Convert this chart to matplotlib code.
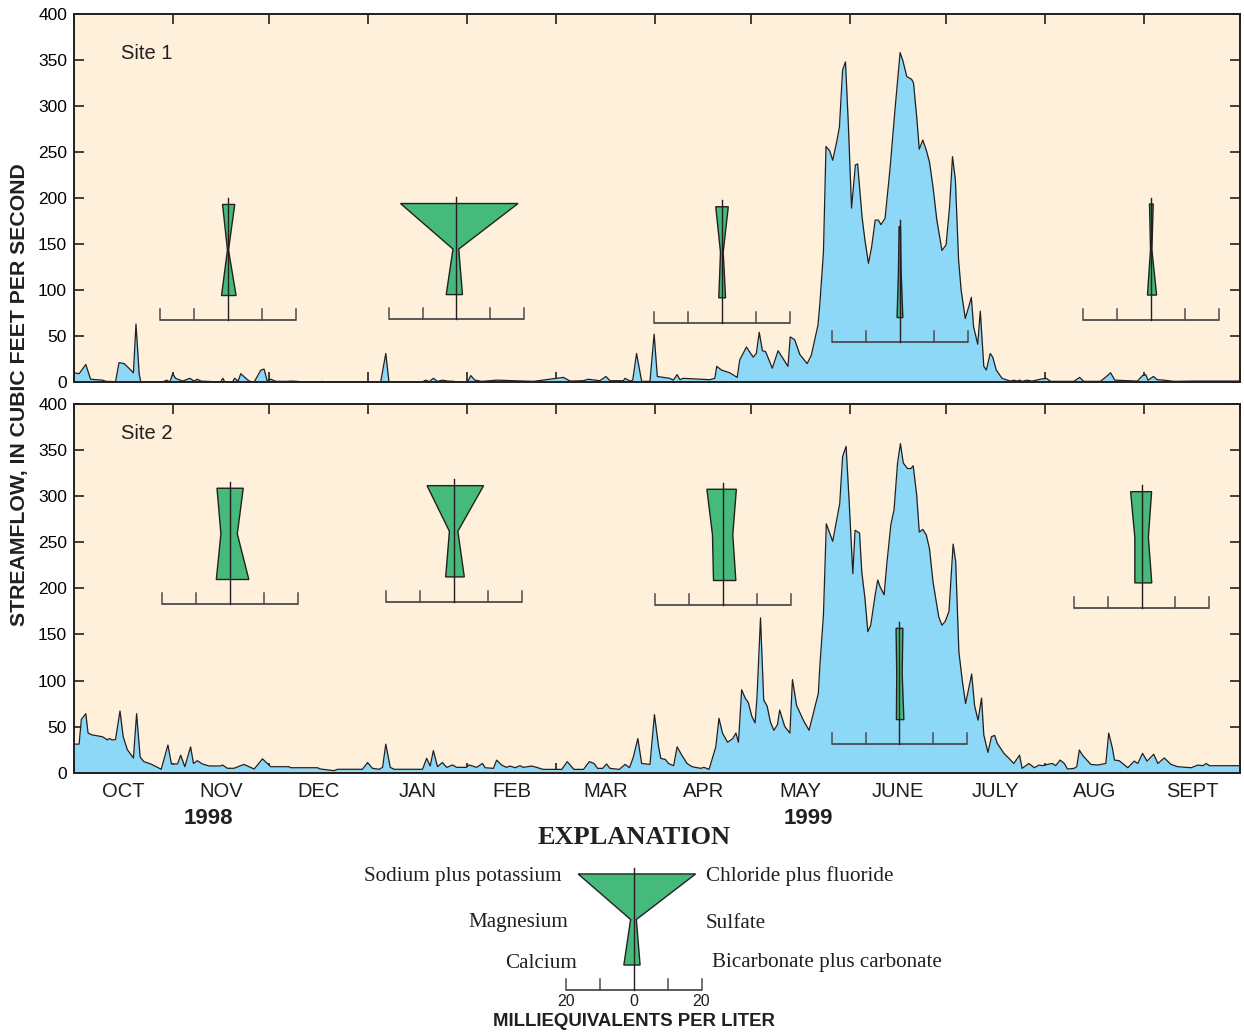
import numpy as np
import matplotlib.pyplot as plt
from matplotlib.patches import Polygon
from matplotlib.transforms import blended_transform_factory

# === Daily streamflow, water year 1999 (day 0 = Oct 1, 1998), cfs ===
dias_1 = [0, 1.6, 3.7, 5.2, 8.9, 10, 13, 14.1, 15.7, 17.2, 18.6, 19.4, 20.4, 20.9, 27.7, 29, 30, 30.9, 31.8, 34,
          36.3, 37.6, 38.6, 39.7, 41.8, 45.9, 46.6, 47.2, 49.6, 50.3, 51.4, 52.2, 54.8, 56.4, 58.5, 59.5, 60.5,
          61.6, 63.2, 66.8, 67.8, 70, 71, 77.2, 77.8, 78.3, 96, 97.6, 98.6, 109, 110.1, 111.2, 112.5, 113.8,
          115.3, 117, 119, 119.5, 123.2, 124.2, 125.5, 127.6, 132.3, 143.8, 153.2, 155.3, 159.4, 161, 164.6,
          166.5, 167.8, 172, 172.5, 174.1, 174.9, 176.1, 177.7, 180.3, 181.6, 182.6, 186.5, 187.6, 188.8, 189.7,
          190.7, 199, 200.6, 201.2, 202.7, 205.3, 207.6, 208.4, 210.5, 212.6, 213.6, 214.5, 215.5, 216.5, 218.6,
          220.4, 223.5, 224.2, 225.6, 227.2, 229.5, 230.8, 232.9, 233.5, 234.6, 235.4, 236.6, 237.5, 238.8,
          239.6, 240.6, 241.5, 242.4, 243.4, 244.6, 245.3, 246.7, 247.6, 248.7, 249.7, 250.8, 251.8, 252.6,
          253.9, 255.5, 257, 258.6, 259.4, 260.7, 262.2, 262.8, 263.8, 264.6, 265.7, 266.8, 267.8, 268.9, 270.1,
          271.7, 273, 274.1, 275, 275.9, 276.9, 277.7, 279, 280.1, 280.9, 281.6, 282.9, 283.7, 284.8, 285.6,
          286.8, 287.6, 288.7, 290.5, 293.1, 294.2, 295.2, 296, 296.8, 298.3, 299.9, 302.5, 304.4, 305.7, 313,
          314.8, 316.1, 321.3, 323.2, 324.5, 325.8, 332.9, 334.5, 335.5, 336.2, 337.9, 339.1, 341.2, 344.4,
          350.6, 359, 365]
vazao_1 = [10, 9, 19, 3, 2, 0.7, 0.4, 21, 20, 15, 10, 63, 9, 0, 0, 2, 0, 9, 4, 1,
           4, 1, 3, 1, 0.7, 0, 4, 0, 0, 4, 1, 9, 1, 0, 13, 14, 1,
           3, 0.7, 0.7, 1, 0.7, 0, 0, 0.7, 0, 0, 31, 0, 0, 2, 0.4, 4, 0.7,
           2, 1, 0.7, 0, 0, 7, 2, 0.7, 2, 0.7, 5, 1, 1.4, 3, 1.4,
           6, 1.4, 1.4, 4, 1, 2, 31, 0.7, 0.7, 52, 6, 4, 2, 8, 2.5,
           4, 2.5, 4, 17, 13, 10, 5, 24, 38, 27, 31, 54, 34, 33, 15,
           34, 17, 49, 46, 30, 20, 29, 62, 86, 141, 256, 251, 241, 262,
           277, 339, 348, 280, 189, 236, 237, 179, 154, 129, 147, 176, 176, 171,
           178, 234, 296, 358, 350, 332, 329, 325, 288, 253, 263, 252, 239, 212, 176,
           143, 149, 191, 245, 220, 133, 100, 69, 82, 92, 60, 41, 77, 17, 13,
           31, 27, 13, 4, 1, 2, 1, 2, 0.7, 2, 1, 3, 4, 0.7, 0.7,
           5, 0.7, 0.7, 6, 10, 2, 1, 7, 8, 2, 6, 2.5, 2, 0.7,
           1, 1, 1]

dias_2 = [0, 1.6, 2.3, 3.7, 4.4, 5.7, 7.3, 8.9, 9.9, 10.4, 11, 12, 13, 14.4, 15.4, 16.7, 18.6, 19.6, 20.7, 21.9,
          24, 25.3, 27.3, 29.4, 30.5, 32.4, 33.4, 34.7, 36.5, 37.4, 38.6, 40.2, 42.3, 45.9, 46.5, 48, 50.1, 53.2,
          56.4, 59, 60.5, 61.6, 67.3, 67.8, 76.2, 77.2, 81.4, 82.5, 90.3, 91.9, 93.4, 95.5, 96.6, 97.6, 99, 100.2,
          109.1, 110.4, 111.5, 112.5, 113.8, 115.3, 116.7, 118.5, 119.8, 122.7, 123.7, 126, 127.9, 128.7, 131.3,
          132.3, 133.9, 135.4, 136.5, 138.1, 139.6, 140.6, 143.3, 144.8, 146.9, 152.7, 154.4, 156.5, 159.5, 161.3,
          162.8, 163.9, 165.5, 166.7, 167.8, 170.7, 172.5, 173.9, 175.1, 176.5, 177.7, 180.3, 181.7, 183, 183.7,
          185.1, 186.1, 187.7, 188.8, 190.1, 191.9, 193.5, 196.2, 197.2, 198.8, 200.9, 201.9, 203, 204.6, 206.2,
          207.2, 208, 209, 210.1, 211.1, 212.2, 213.2, 213.8, 214.9, 215.9, 217, 218, 219.1, 220.2, 220.9, 222.5,
          224.1, 224.9, 226.2, 228.3, 230.1, 232, 233, 233.5, 234.6, 235.5, 237.5, 239.7, 240.6, 241.7, 242.7,
          243.8, 244.5, 245.9, 246.6, 247.6, 248.5, 249.4, 250.8, 251.6, 252.3, 253.6, 254.4, 255.7, 256.7, 257.8,
          258.7, 259.6, 260.9, 262, 262.7, 263.8, 264.6, 265.7, 266.8, 267.8, 268.9, 270.7, 271.7, 272.7, 273.9,
          275.2, 276, 277, 278.1, 279.1, 281, 281.9, 283, 284.1, 284.8, 286.1, 287.2, 288.2, 289, 291.1, 292.7,
          294.2, 296, 296.8, 298.9, 300.6, 302.1, 303.2, 304.7, 306.3, 307.3, 308.7, 310, 311, 313.1, 313.9,
          314.7, 315.7, 318.3, 320.4, 323, 323.9, 325.1, 325.7, 327.2, 329.9, 331.9, 333, 334.5, 335.9, 338,
          339.3, 341.3, 343.4, 345.5, 349.7, 351.8, 353.4, 354.4, 355.5, 365]
vazao_2 = [31, 31, 58, 64, 43, 41, 40, 39, 37, 35.5, 37, 35.5, 36, 67, 39, 25, 16, 64, 17, 12,
           9.5, 7.3, 3.7, 30, 9.5, 9.5, 19, 6.5, 28, 10, 13, 9.5, 7.3, 7.3, 8.4, 4.8, 4.8, 9,
           4, 15, 10, 6.5, 6.5, 5.4, 5.4, 4, 2.2, 3.7, 3.7, 11, 4.8, 3.7, 5.8, 31, 5.8, 3.7,
           3.7, 15.6, 7.3, 24, 6.5, 11, 5.8, 8.4, 5.8, 5.8, 8.4, 5.8, 10, 5.4, 4.7,
           13.6, 8.2, 5.8, 7.2, 5.4, 7.6, 5.8, 7.2, 5.8, 3.6, 3.6, 12, 3.6, 3.6, 12,
           10, 4.7, 4.7, 9.4, 4.7, 3.6, 9, 5.4, 17, 37, 10, 9, 63, 28, 15.5,
           14.4, 10, 7.6, 28, 20, 10, 6.5, 4.7, 5.8, 3.6, 28, 59, 43, 33, 37,
           43, 33, 90, 81, 76, 61, 54, 82, 168, 79, 72, 55, 46, 52, 68, 50,
           43, 101, 73, 57, 46, 72, 86, 117, 171, 270, 251, 292, 343, 354, 291,
           216, 263, 260, 218, 189, 153, 160, 193, 209, 202, 193, 225, 269, 285, 336,
           357, 336, 330, 330, 333, 301, 261, 264, 258, 243, 207, 169, 160, 164, 175,
           248, 229, 131, 99, 75, 107, 73, 57, 81, 41, 22, 39, 40.5, 32, 21, 15.5,
           10, 19, 4.7, 10, 5.4, 8.3, 7.6, 9, 10, 7.6, 13.7, 10, 4, 4.7, 6.5,
           24.6, 19, 9, 8.3, 10, 43, 26, 13.7, 13, 5.4, 12.6, 10, 21, 12.6, 20,
           10, 16, 9, 6.5, 5.4, 8.3, 7.6, 10, 7.6, 7.6]

# === Stiff diagrams: centre date (day), height of top row (cfs) and ions in meq/L ===
# cations = [Na+K, Mg, Ca]  anions = [Cl+F, SO4, HCO3+CO3]
centro_1 = [48.2, 119.7, 202.8, 258.5, 337.2]
topo_1 = [193, 194, 190.5, 169, 193.5]
cations_1 = [[1.6, 0.15, 1.9], [16.5, 1.0, 3.0], [1.8, 0.4, 0.9], [0.2, 0.4, 0.8], [0.5, 0.2, 1.1]]
anions_1 = [[2.0, 0.15, 2.4], [18.2, 0.7, 1.8], [1.9, 0.4, 1.1], [0.2, 0.4, 0.9], [0.6, 0.2, 1.6]]

centro_2 = [48.9, 119.0, 203.1, 258.4, 334.2]
topo_2 = [308.6, 311.4, 307.5, 156.6, 304.9]
cations_2 = [[3.9, 2.75, 4.1], [8.0, 1.4, 2.5], [4.7, 3.05, 2.75], [1.0, 0.8, 0.9], [3.25, 2.0, 2.0]]
anions_2 = [[3.85, 2.1, 5.5], [8.7, 1.1, 3.0], [4.0, 2.95, 3.85], [1.0, 0.8, 1.3], [2.95, 2.0, 3.0]]

meses = ['OCT', 'NOV', 'DEC', 'JAN', 'FEB', 'MAR', 'APR', 'MAY', 'JUNE', 'JULY', 'AUG', 'SEPT']
inicio_mes = [0, 31, 61, 92, 123, 151, 182, 212, 243, 273, 304, 335, 365]
anos = ['1998', '1999']
pos_anos = [42, 230]

# === Estilo ===
CREME = '#fef0db'
AZUL = '#8dd7f7'
VERDE = '#45ba7a'
ESCURO = '#231f20'
MEQ = 1.06      # days of x axis per meq/L
DY = 49.5       # cfs between rows of a stiff diagram

plt.rcParams['font.family'] = ['Liberation Sans', 'DejaVu Sans']


def stiff(ax, x0, y0, cat, an):
    ys = [y0, y0 - DY, y0 - 2 * DY]
    esq = [(x0 - c * MEQ, y) for c, y in zip(cat, ys)]
    dir_ = [(x0 + a * MEQ, y) for a, y in zip(an, ys)]
    ax.add_patch(Polygon(esq + dir_[::-1], closed=True, fc=VERDE, ec=ESCURO, lw=1.0, zorder=4))
    yb = ys[2] - 27
    ax.plot([x0 - 20 * MEQ, x0 + 20 * MEQ], [yb, yb], color='#4d4d4d', lw=1.3, zorder=4,
            solid_capstyle='butt')
    for k in (-20, -10, 10, 20):
        ax.plot([x0 + k * MEQ] * 2, [yb, yb + 12], color='#4d4d4d', lw=1.1, zorder=4)
    ax.plot([x0, x0], [yb, y0 + 7], color=ESCURO, lw=1.0, zorder=5)


fig = plt.figure(figsize=(12.44, 10.34), dpi=100)
ax1 = fig.add_axes([74 / 1244, 1 - 382 / 1034, 1166 / 1244, 368 / 1034])
ax2 = fig.add_axes([74 / 1244, 1 - 772.7 / 1034, 1166 / 1244, 368.7 / 1034])

dados = [(ax1, dias_1, vazao_1, centro_1, topo_1, cations_1, anions_1, 'Site 1', 0.893),
         (ax2, dias_2, vazao_2, centro_2, topo_2, cations_2, anions_2, 'Site 2', 0.921)]

for ax, d, q, cx, ty, ca, an, nome, ytxt in dados:
    ax.set_facecolor(CREME)
    ax.fill_between(d, q, 0, color=AZUL, lw=0, zorder=2)
    ax.plot(d, q, color=ESCURO, lw=0.9, zorder=3)
    for i in range(len(cx)):
        stiff(ax, cx[i], ty[i], ca[i], an[i])
    ax.set_xlim(0, 365)
    ax.set_ylim(0, 400)
    ax.set_yticks(np.arange(0, 401, 50))
    ax.set_xticks(inicio_mes)
    ax.tick_params(axis='x', which='major', direction='in', top=True, bottom=True,
                   length=7, width=1.2, color=ESCURO, labelbottom=False)
    ax.tick_params(axis='y', direction='in', left=True, right=True, length=7, width=1.2,
                   color=ESCURO, labelsize=12.5, pad=5)
    for s in ax.spines.values():
        s.set_linewidth(1.4)
        s.set_color(ESCURO)
        s.set_zorder(6)
    ax.text(0.04, ytxt, nome, transform=ax.transAxes, fontsize=14.5, color=ESCURO, va='center')

# rótulos dos meses no meio de cada mês
meio = [(inicio_mes[i] + inicio_mes[i + 1]) / 2 for i in range(12)]
ax2.set_xticks(meio, minor=True)
ax2.set_xticklabels(meses, minor=True)
ax2.tick_params(axis='x', which='minor', length=0, labelsize=14.5, pad=7, labelcolor=ESCURO)

trans = blended_transform_factory(ax2.transData, ax2.transAxes)
for a, p in zip(anos, pos_anos):
    ax2.text(p, -0.123, a, transform=trans, ha='center', va='center', fontsize=16,
             fontweight='bold', color=ESCURO)

fig.text(20 / 1244, 1 - 395 / 1034, 'STREAMFLOW, IN CUBIC FEET PER SECOND', rotation=90,
         ha='center', va='center', fontsize=15.3, fontweight='bold', color=ESCURO)

# === Explanation ===
serif = ['Liberation Serif', 'DejaVu Serif']
fig.text(634 / 1244, 1 - 837 / 1034, 'EXPLANATION', ha='center', va='center', fontsize=19,
         fontweight='bold', family=serif, color=ESCURO)

axe = fig.add_axes([499 / 1244, 1 - 1000 / 1034, 270 / 1244, 145 / 1034])
axe.set_xlim(0, 270 / 3.1945)
axe.set_ylim(0, 145 / 0.92)
axe.axis('off')
stiff(axe, 42.26, 137, cations_1[1], anions_1[1])

rotulos = [('Sodium plus potassium', 562, 876, 'right'), ('Chloride plus fluoride', 706, 876, 'left'),
           ('Magnesium', 568, 923, 'right'), ('Sulfate', 706, 923, 'left'),
           ('Calcium', 577, 963, 'right'), ('Bicarbonate plus carbonate', 712, 963, 'left')]
for t, x, y, ha in rotulos:
    fig.text(x / 1244, 1 - y / 1034, t, ha=ha, va='center', fontsize=15.2, family=serif, color=ESCURO)

for t, x in (('20', 566), ('0', 634), ('20', 701)):
    fig.text(x / 1244, 1 - 1001 / 1034, t, ha='center', va='center', fontsize=11.5, color=ESCURO)
fig.text(634 / 1244, 1 - 1022 / 1034, 'MILLIEQUIVALENTS PER LITER', ha='center', va='center',
         fontsize=13.4, fontweight='bold', color=ESCURO)

plt.savefig('out.png', dpi=100, facecolor='white')
